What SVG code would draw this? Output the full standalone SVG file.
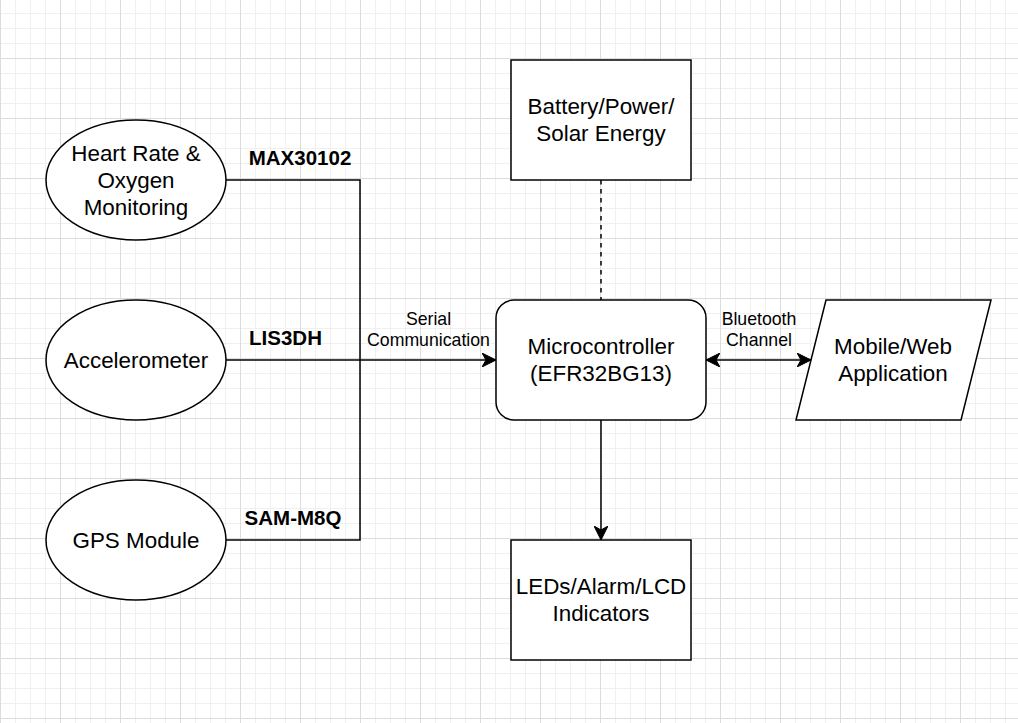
<svg xmlns="http://www.w3.org/2000/svg" width="1018" height="723" viewBox="0 0 1018 723">
<style>
.shape{fill:#ffffff;stroke:#000000;stroke-width:1.5}
.line{fill:none;stroke:#000000;stroke-width:1.5}
.big{font-family:"Liberation Sans",Arial,sans-serif;font-size:22.4px;fill:#000000;text-anchor:middle}
.small{font-family:"Liberation Sans",Arial,sans-serif;font-size:17.7px;fill:#000000;text-anchor:middle}
.bold{font-family:"Liberation Sans",Arial,sans-serif;font-size:20.5px;font-weight:bold;fill:#000000;text-anchor:middle}
</style>
<defs>
<pattern id="grid" x="0" y="-2" width="60" height="60" patternUnits="userSpaceOnUse">
<path d="M15.5 0V60M30.5 0V60M45.5 0V60M0 15.5H60M0 30.5H60M0 45.5H60" stroke="#f0f0f0" stroke-width="1" fill="none"/>
<path d="M0.5 0V60M0 0.5H60" stroke="#dcdcdc" stroke-width="1" fill="none"/>
</pattern>
<marker id="arr" viewBox="0 0 14 14" markerWidth="14" markerHeight="14" refX="14" refY="7" orient="auto-start-reverse" markerUnits="userSpaceOnUse">
<path d="M14 7L0 0L4 7L0 14Z" fill="#000000" stroke="#000000" stroke-width="1"/>
</marker>
</defs>
<rect x="0" y="0" width="1018" height="723" fill="#ffffff"/>
<rect x="0" y="0" width="1018" height="723" fill="url(#grid)"/>
<g id="connectors">
<path class="line" d="M226 180H360V540H226"/>
<path class="line" d="M226 360H496" marker-end="url(#arr)"/>
<path class="line" d="M601 180V300" stroke-dasharray="4.5 4.5"/>
<path class="line" d="M601 420V540" marker-end="url(#arr)"/>
<path class="line" d="M706 360H811" marker-start="url(#arr)" marker-end="url(#arr)"/>
<text class="bold" x="300" y="165">MAX30102</text>
<text class="bold" x="285.5" y="345">LIS3DH</text>
<text class="bold" x="293" y="525">SAM-M8Q</text>
<text class="small" x="428.5" y="325">Serial</text>
<text class="small" x="428.5" y="346">Communication</text>
<text class="small" x="759" y="325">Bluetooth</text>
<text class="small" x="759" y="346">Channel</text>
</g>
<g id="heart">
<ellipse class="shape" cx="136" cy="180" rx="90" ry="60"/>
<text class="big" x="136" y="161">Heart Rate &amp;</text>
<text class="big" x="136" y="188">Oxygen</text>
<text class="big" x="136" y="215">Monitoring</text>
</g>
<g id="accel">
<ellipse class="shape" cx="136" cy="360" rx="90" ry="60"/>
<text class="big" x="136" y="368">Accelerometer</text>
</g>
<g id="gps">
<ellipse class="shape" cx="136" cy="540" rx="90" ry="60"/>
<text class="big" x="136" y="548">GPS Module</text>
</g>
<g id="battery">
<rect class="shape" x="511" y="60" width="180" height="120"/>
<text class="big" x="601" y="114">Battery/Power/</text>
<text class="big" x="601" y="141">Solar Energy</text>
</g>
<g id="mcu">
<rect class="shape" x="496" y="300" width="210" height="120" rx="18" ry="18"/>
<text class="big" x="601" y="354">Microcontroller</text>
<text class="big" x="601" y="381">(EFR32BG13)</text>
</g>
<g id="leds">
<rect class="shape" x="511" y="540" width="180" height="120"/>
<text class="big" x="601" y="594">LEDs/Alarm/LCD</text>
<text class="big" x="601" y="621">Indicators</text>
</g>
<g id="app">
<polygon class="shape" points="826,300 991,300 961,420 796,420"/>
<text class="big" x="893" y="354">Mobile/Web</text>
<text class="big" x="893" y="381">Application</text>
</g>
</svg>
